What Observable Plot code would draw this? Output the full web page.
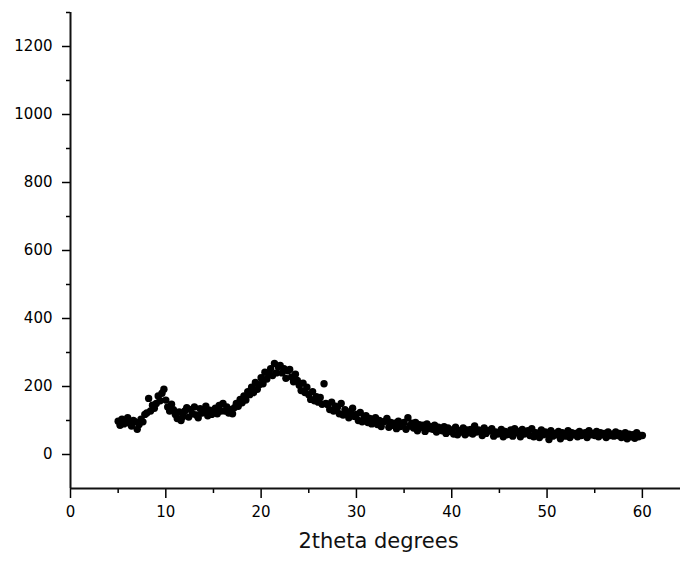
<!DOCTYPE html>
<html><head><meta charset="utf-8">
<script src="https://cdn.jsdelivr.net/npm/d3@7"></script>
<script src="https://cdn.jsdelivr.net/npm/@observablehq/plot@0.6"></script>
<style>body{margin:0;background:#fff}</style>
</head><body><div id="chart"></div>
<script>
// XRD scan: 2theta from 5 to 60 degrees, sampled every 0.2 degrees
const angleStart = 5;
const angleStep = 0.2;
const intensity = [
  98, 86, 104, 90, 95,     // 5
  108, 92, 84, 100, 96,    // 6
  74, 88, 104, 96, 118,    // 7
  122, 165, 128, 145, 136, // 8
  150, 172, 158, 180, 192, // 9
  160, 140, 128, 148, 132, // 10
  118, 106, 125, 100, 112, // 11
  128, 138, 110, 132, 120, // 12
  140, 116, 108, 135, 122, // 13
  126, 142, 114, 130, 118, // 14
  122, 136, 120, 144, 128, // 15
  150, 128, 140, 122, 132, // 16
  120, 138, 150, 142, 162, // 17
  152, 172, 160, 185, 176, // 18
  198, 182, 212, 192, 205, // 19
  226, 208, 242, 222, 238, // 20
  252, 232, 268, 240, 258, // 21
  262, 240, 252, 224, 246, // 22
  250, 228, 214, 236, 218, // 23
  204, 188, 210, 182, 198, // 24
  176, 162, 185, 158, 170, // 25
  154, 168, 148, 208, 150, // 26
  146, 132, 154, 128, 142, // 27
  138, 120, 150, 116, 132, // 28
  126, 108, 124, 136, 112, // 29
  118, 100, 124, 96, 110,  // 30
  114, 94, 106, 90, 104,   // 31
  108, 88, 100, 82, 96,    // 32
  98, 106, 80, 94, 86,     // 33
  92, 76, 98, 82, 90,      // 34
  94, 74, 108, 84, 92,     // 35
  78, 94, 70, 88, 80,      // 36
  86, 68, 90, 76, 82,      // 37
  74, 86, 66, 80, 72,      // 38
  70, 82, 62, 78, 68,      // 39
  72, 60, 80, 58, 70,      // 40
  66, 78, 58, 72, 64,      // 41
  74, 60, 84, 66, 72,      // 42
  68, 56, 78, 62, 70,      // 43
  70, 76, 54, 66, 60,      // 44
  62, 74, 52, 68, 58,      // 45
  60, 72, 54, 76, 64,      // 46
  68, 52, 74, 60, 66,      // 47
  70, 56, 76, 52, 64,      // 48
  62, 50, 72, 58, 66,      // 49
  60, 44, 70, 54, 62,      // 50
  58, 68, 46, 64, 56,      // 51
  54, 70, 50, 64, 58,      // 52
  62, 52, 68, 56, 60,      // 53
  64, 50, 70, 58, 62,      // 54
  56, 68, 52, 64, 58,      // 55
  62, 50, 66, 56, 60,      // 56
  54, 66, 56, 62, 50,      // 57
  56, 64, 46, 60, 52,      // 58
  58, 48, 64, 52, 56,      // 59
  56                       // 60
];
const xMajorTicks = [0, 10, 20, 30, 40, 50, 60];
const xMinorTicks = [5, 15, 25, 35, 45, 55];
const yMajorTicks = [0, 200, 400, 600, 800, 1000, 1200];
const yMinorTicks = [100, 300, 500, 700, 900, 1100, 1300];
const xLabel = "2theta degrees";

const data = intensity.map((v, i) => ({theta: angleStart + i * angleStep, counts: v}));

const chart = Plot.plot({
  width: 681,
  height: 563,
  marginLeft: 70,
  marginRight: 1,
  marginTop: 12,
  marginBottom: 75,
  x: {domain: [0, 64]},
  y: {domain: [-100, 1300]},
  style: {fontFamily: "DejaVu Sans", fontSize: "15px", color: "#000", background: "#fff"},
  marks: [
    Plot.axisX({ticks: xMajorTicks, tickSize: 10, tickPadding: 8, label: null, tickFormat: d => String(d), strokeWidth: 1.5}),
    Plot.axisX({ticks: xMinorTicks, tickSize: 5, text: null, label: null, strokeWidth: 1.5}),
    Plot.axisY({ticks: yMajorTicks, tickSize: 8, tickPadding: 10, label: null, tickFormat: d => String(d), strokeWidth: 1.5}),
    Plot.axisY({ticks: yMinorTicks, tickSize: 4, text: null, label: null, strokeWidth: 1.5}),
    Plot.ruleX([0], {strokeWidth: 2, stroke: "#111"}),
    Plot.ruleY([-100], {strokeWidth: 2, stroke: "#111"}),
    Plot.dot(data, {x: "theta", y: "counts", r: 3.7, fill: "#000", stroke: null}),
    Plot.text([xLabel], {frameAnchor: "bottom", dx: 3, dy: 53, fontSize: 21, letterSpacing: "1px", fill: "#111", lineAnchor: "middle"})
  ]
});
document.getElementById("chart").appendChild(chart);
</script>
</body></html>
